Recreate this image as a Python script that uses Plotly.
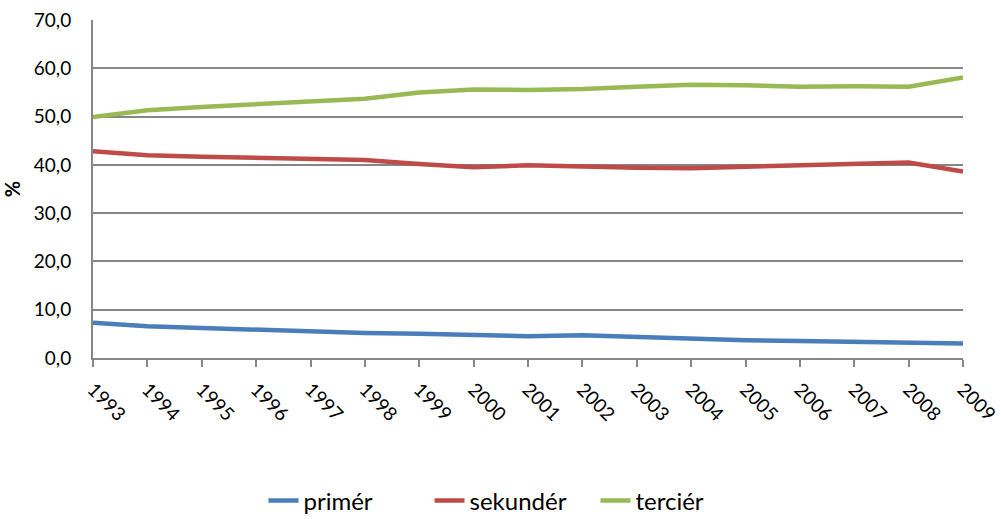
import plotly.graph_objects as go

years = list(range(1993, 2010))
primer = [7.3, 6.6, 6.2, 5.8, 5.5, 5.2, 5.0, 4.8, 4.5, 4.7, 4.3, 4.0, 3.7, 3.5, 3.4, 3.1, 3.0]
sekunder = [42.8, 42.0, 41.7, 41.5, 41.2, 41.0, 40.2, 39.5, 39.9, 39.6, 39.4, 39.3, 39.6, 40.0, 40.2, 40.5, 38.6]
tercier = [49.9, 51.3, 52.0, 52.6, 53.3, 53.7, 55.0, 55.6, 55.5, 55.7, 56.2, 56.6, 56.5, 56.2, 56.3, 56.2, 58.1]
names = ["primér", "sekundér", "terciér"]
colors = ["#4A7EBB", "#BE4B48", "#98B954"]
y_ticks = [0, 10, 20, 30, 40, 50, 60, 70]

fig = go.Figure()
for name, vals, col in zip(names, [primer, sekunder, tercier], colors):
    fig.add_trace(go.Scatter(x=years, y=vals, name=name, mode="lines",
                             line=dict(color=col, width=4.5)))

font = "Lato, 'Noto Sans', sans-serif"
fig.update_layout(
    width=1001, height=519,
    margin=dict(l=93, r=38, t=20, b=161),
    paper_bgcolor="white", plot_bgcolor="white",
    separators=", ",
    font=dict(family=font, color="#000000", size=19),
    showlegend=True,
    legend=dict(orientation="h", x=0.512, xanchor="center", xref="container",
                y=0.035, yanchor="middle", yref="container",
                font=dict(size=24), tracegroupgap=0,
                entrywidth=121, entrywidthmode="pixels"),
    xaxis=dict(range=[1993, 2009], tickvals=years, ticktext=[str(y) for y in years],
               tickangle=45, ticks="outside", ticklen=7, tickcolor="#868686", tickwidth=2,
               showline=True, linecolor="#868686", linewidth=2, showgrid=False,
               zeroline=False, tickfont=dict(size=19), automargin=False,
               ticklabelstandoff=4),
    yaxis=dict(range=[0, 70], tickvals=y_ticks, tickformat=".1f",
               showline=True, linecolor="#868686", linewidth=2,
               showgrid=True, gridcolor="#868686", gridwidth=1.5, zeroline=False,
               ticks="", tickfont=dict(size=19), automargin=False,
               ticklabelstandoff=16,
               title=dict(text="<b>%</b>", font=dict(size=20), standoff=14)),
)

fig.write_html("out.html", config={"displayModeBar": False},
               post_script="document.body.style.margin='0';")
